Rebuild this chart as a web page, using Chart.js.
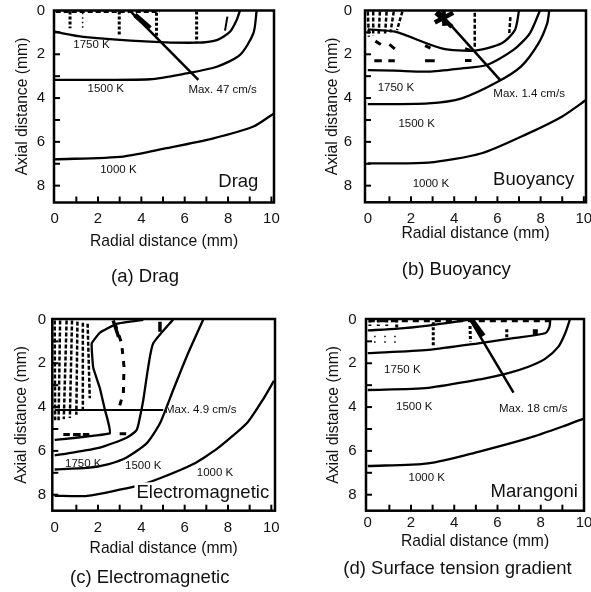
<!DOCTYPE html>
<html><head><meta charset="utf-8">
<script src="https://cdn.jsdelivr.net/npm/chart.js@4.4.1/dist/chart.umd.min.js"></script>
<style>
html,body{margin:0;padding:0;background:#fff;}
#wrap{position:relative;width:591px;height:592px;overflow:hidden;background:#fff;}
canvas{position:absolute;display:block;}
</style></head><body>
<div id="wrap">
<canvas id="pa" width="295" height="296" style="left:0;top:0"></canvas>
<canvas id="pb" width="296" height="296" style="left:295px;top:0"></canvas>
<canvas id="pc" width="295" height="296" style="left:0;top:296px"></canvas>
<canvas id="pd" width="296" height="296" style="left:295px;top:296px"></canvas>
</div>
<script>
// ---------- axes / tick labels ----------
const radialTicks = [0, 2, 4, 6, 8, 10];
const axialTicks = [0, 2, 4, 6, 8];
const radialMinor = [1, 2, 3, 4, 5, 6, 7, 8, 9, 10];
const axialMinor = [1, 2, 3, 4, 5, 6, 7, 8];
const xAxisTitle = 'Radial distance (mm)';
const yAxisTitle = 'Axial distance (mm)';
const captions = ['(a) Drag', '(b) Buoyancy', '(c) Electromagnetic', '(d) Surface tension gradient'];

// ---------- (a) Drag : [radial mm, axial mm] ----------
const dragIso1750 = [[0,0.97],[1.32,1.2],[4.4,1.42],[6.55,1.47],[7.48,1.35],[8.09,0.97],[8.4,0.43],[8.55,0]];
const dragIso1500 = [[0,3.17],[4.4,3.14],[6.09,2.87],[7.48,2.57],[8.55,2.03],[9.17,1.04],[9.32,0]];
const dragIso1000 = [[0,6.8],[3.17,6.67],[5.17,6.29],[7.32,5.84],[9.17,5.3],[10.12,4.7]];
const dragMaxVector = [[3.48,0.02],[6.63,3.17]];
const dragMaxHead = [[3.7,0.2,4.4,0.81]];
const dragVecColumns = [[0.71,0.05,0.71,0.81],[2.98,0.05,2.98,1.16],[4.7,0.1,4.7,1.27],[6.55,0.05,6.55,1.5]];
const dragVecFaint = [[1.29,0.1,1.29,0.89]];
const dragVecSolid = [[7.97,0.28,7.86,0.92]];
const dragVecSurface = [[0.05,0.05,4.86,0.05]];
const dragNotes = [['1750 K',1.7,1.58],['1500 K',2.36,3.6],['1000 K',2.94,7.28],['Max. 47 cm/s',6.17,3.63],['Drag',9.4,7.82]];

// ---------- (b) Buoyancy ----------
const buoyIsoInner = [[0,0.86],[1.26,0.97],[3.42,1.73],[4.96,1.83],[6.2,1.5],[6.81,0.89],[7.0,0]];
const buoyIso1750 = [[0,2.72],[1.26,2.75],[2.8,2.79],[4.35,2.64],[5.5,2.49],[6.74,1.8],[7.5,1.04],[7.97,0]];
const buoyIso1500 = [[0,4.28],[2.8,4.24],[4.35,4.01],[5.97,3.28],[7.1,2.55],[7.9,1.5],[8.3,0.6],[8.4,0]];
const buoyIso1000 = [[0,6.98],[2.8,6.95],[5.27,6.52],[7.43,5.61],[8.98,4.85],[10.1,4.09]];
const buoyMaxVector = [[3.26,0.03],[6.15,3.2]];
const buoyMaxHead = [[3.15,0.1,3.9,0.75],[3.1,0.55,3.95,0.1],[3.5,0.02,3.55,0.7]];
const buoyVecColumns = [[0.0,0.05,0.05,1.2],[0.25,0.05,0.25,1.15],[0.56,0.05,0.5,1.1],[0.87,0.05,0.8,1.05],[1.2,0.05,1.05,1.0],[1.6,0.05,1.35,0.9],[4.95,0.1,4.95,1.75],[6.6,0.3,6.55,1.03]];
const buoyVecArrows = [[0.35,1.4,0.6,1.55],[1.0,1.55,1.25,1.75],[2.65,1.6,2.9,1.72],[4.5,1.75,4.75,1.82],[0.3,2.3,0.65,2.3],[0.95,2.3,1.25,2.3],[2.65,2.3,3.1,2.3],[4.5,2.28,4.8,2.28]];
const buoyNotes = [['1750 K',1.3,3.51],['1500 K',2.26,5.18],['1000 K',2.92,7.92],['Max. 1.4 cm/s',5.81,3.81],['Buoyancy',9.56,7.74]];

// ---------- (c) Electromagnetic ----------
const emIsoInner = [[0,5.5],[2.55,5.2],[2.45,4.6],[2.32,4.13],[2.09,3.15],[1.78,2.2],[1.71,1.1],[2.09,0.6],[2.86,0.2],[4.09,0.02]];
const emIso1750 = [[0,6.2],[0.55,6.12],[2.09,5.85],[3.32,5.4],[3.78,5.05],[3.94,4.44],[4.09,3.68],[4.32,2.16],[4.55,1.09],[5.47,0]];
const emIso1500 = [[0,6.85],[1.5,6.78],[2.5,6.6],[3.32,6.3],[4.25,5.65],[4.86,4.74],[5.47,3.22],[6.09,1.7],[6.86,0]];
const emIso1000 = [[0,8.05],[1.5,8.05],[3.8,7.6],[4.86,7.25],[6.4,6.6],[7.5,5.9],[8.9,4.7],[9.65,3.6],[10.12,2.8]];
const emMaxVector = [[0,4.13],[5.01,4.13]];
const emVecColumns = [[0.0,0.05,0.02,4.6],[0.25,0.05,0.18,4.6],[0.55,0.05,0.42,4.55],[0.8,0.05,0.7,4.5],[1.05,0.1,1.0,4.35],[1.3,0.15,1.3,4.1],[1.52,0.2,1.62,3.6]];
const emVecCurve = [[2.78,0.17,3.09,1.09,3.2,2.16,3.17,3.37,2.94,4.13]];
const emVecSolid = [[2.7,0.05,2.95,0.8],[4.86,0.1,4.86,0.56]];
const emVecArrows = [[0.4,5.25,0.7,5.25],[0.85,5.25,1.2,5.25],[1.3,5.25,1.6,5.25],[3.0,5.22,3.3,5.22]];
const emNotes = [['1750 K',1.32,6.57],['1500 K',4.09,6.67],['1000 K',7.4,7.02],['Max. 4.9 cm/s',5.09,4.13],['Electromagnetic',9.9,7.9]];

// ---------- (d) Marangoni ----------
const maraIsoInner = [[0,0.5],[1.41,0.42],[2.8,0.28],[3.8,0.15],[4.75,0]];
const maraIso1750 = [[0,1.54],[2.8,1.39],[5.12,1.09],[6.66,0.86],[8.2,0.63],[8.4,0.35],[8.44,0]];
const maraIso1500 = [[0,3.22],[2.8,3.12],[5.27,2.72],[6.5,2.45],[7.43,2.16],[8.2,1.8],[8.82,1.24],[9.13,0.63],[9.35,0]];
const maraIso1000 = [[0,6.69],[2.8,6.57],[5.12,6.04],[7.43,5.42],[8.98,4.9],[10.02,4.51]];
const maraMaxVector = [[4.73,0],[6.74,3.34]];
const maraMaxHead = [[4.81,0.02,5.35,0.75]];
const maraVecSurface = [[0.05,0.05,8.4,0.05]];
const maraVecColumns = [[0.1,0,0.1,0.3],[0.49,0,0.49,0.3],[0.88,0,0.88,0.3],[1.34,0,1.34,0.4],[3.03,0.13,3.03,1.2],[4.73,0.3,4.75,1.0],[6.43,0.45,6.43,0.86]];
const maraVecFaint = [[0.33,0.75,0.33,1.25],[0.8,0.75,0.8,1.25],[1.26,0.75,1.26,1.25]];
const maraVecSolid = [[7.75,0.45,7.75,0.7]];
const maraNotes = [['1750 K',1.6,2.3],['1500 K',2.15,4.01],['1000 K',2.73,7.25],['Max. 18 cm/s',6.07,4.06],['Marangoni',9.72,7.86]];

// ---------- styling ----------
const FONT = "'Liberation Sans', Arial, Helvetica, sans-serif";
const INK = '#000';
const TEXT = '#111';
const TICK_FS = 15, TITLE_FS = 15.7, CAP_FS = 18.5, NOTE_FS = 11.5, NAME_FS = 18.5;

function pts(arr) { return arr.map(p => ({x: p[0], y: p[1]})); }
function segs(list) {
  const out = [];
  list.forEach(s => {
    for (let i = 0; i < s.length; i += 2) out.push({x: s[i], y: s[i + 1]});
    out.push({x: s[s.length - 2], y: null});
  });
  return out;
}
function line(arr, w, tension) {
  return {data: pts(arr), showLine: true, borderColor: INK, borderWidth: w, pointRadius: 0, tension: tension, fill: false};
}
function seg(list, w, dash) {
  return {data: segs(list), showLine: true, borderColor: INK, borderWidth: w, pointRadius: 0, tension: 0, spanGaps: false, borderDash: dash || [], borderCapStyle: 'butt', fill: false};
}

function decor(notes) {
  return {
    id: 'decor',
    afterDatasetsDraw(chart) {
      const {ctx, chartArea: a} = chart;
      const xs = chart.scales.x, ys = chart.scales.y;
      ctx.save();
      notes.forEach((n, i) => {
        const last = i === notes.length - 1;
        const isMax = n[0].indexOf('Max') === 0;
        const fs = last ? NAME_FS : NOTE_FS;
        ctx.font = fs + 'px ' + FONT;
        ctx.textBaseline = 'middle';
        ctx.textAlign = last ? 'right' : (isMax ? 'left' : 'center');
        const px = xs.getPixelForValue(n[1]), py = ys.getPixelForValue(n[2]);
        if (last) {
          const w = ctx.measureText(n[0]).width;
          ctx.fillStyle = '#fff';
          ctx.fillRect(px - w - 2, py - fs * 0.55, w + 4, fs * 1.1);
        }
        ctx.fillStyle = TEXT;
        ctx.fillText(n[0], px, py);
      });
      ctx.strokeStyle = INK;
      ctx.lineWidth = 2;
      radialMinor.forEach(v => {
        const p = xs.getPixelForValue(v);
        ctx.beginPath(); ctx.moveTo(p, a.bottom); ctx.lineTo(p, a.bottom - 6); ctx.stroke();
      });
      axialMinor.forEach(v => {
        const p = ys.getPixelForValue(v);
        ctx.beginPath(); ctx.moveTo(a.left, p); ctx.lineTo(a.left + 6, p); ctx.stroke();
      });
      ctx.lineWidth = 2.5;
      ctx.strokeRect(a.left, a.top, a.right - a.left, a.bottom - a.top);
      ctx.restore();
    }
  };
}

function panel(id, caption, L, range, datasets, notes) {
  const cv = document.getElementById(id);
  const W = cv.width, H = cv.height;
  const capLH = CAP_FS * 1.2, titLH = TITLE_FS * 1.2, tickLH = TICK_FS * 1.2;
  const padL = 2 * L.capX - L.right;
  const padR = W - L.right;
  const padB = H - L.capY - capLH / 2;
  const capTop = L.capY - capLH / 2;
  const xH = capTop - L.bottom;
  const yW = L.left - padL;
  new Chart(cv, {
    type: 'scatter',
    data: {datasets: datasets},
    options: {
      responsive: false, animation: false, events: [],
      layout: {padding: {left: padL, right: padR, top: L.top, bottom: padB}},
      plugins: {
        legend: {display: false}, tooltip: {enabled: false},
        title: {display: true, text: caption, position: 'bottom', color: TEXT,
                font: {family: FONT, size: CAP_FS, weight: 'normal'}, padding: {top: 0, bottom: 0}}
      },
      scales: {
        x: {
          type: 'linear', position: 'bottom', min: range[0], max: range[1],
          grid: {display: false, drawTicks: false}, border: {display: false},
          ticks: {font: {family: FONT, size: TICK_FS}, color: TEXT, padding: L.xTickY - L.bottom - tickLH / 2,
                  autoSkip: false, maxRotation: 0, callback: v => String(v)},
          afterBuildTicks: s => { s.ticks = radialTicks.map(v => ({value: v})); },
          afterFit: s => { s.height = xH; s.paddingLeft = 0; s.paddingRight = 0; },
          title: {display: true, text: xAxisTitle, color: TEXT, font: {family: FONT, size: TITLE_FS},
                  padding: {top: 0, bottom: capTop - L.xTitleY - titLH / 2}}
        },
        y: {
          type: 'linear', position: 'left', reverse: true, min: range[2], max: range[3],
          grid: {display: false, drawTicks: false}, border: {display: false},
          ticks: {font: {family: FONT, size: TICK_FS}, color: TEXT, padding: L.left - L.yLabRight,
                  autoSkip: false, callback: v => String(v)},
          afterBuildTicks: s => { s.ticks = axialTicks.map(v => ({value: v})); },
          afterFit: s => { s.width = yW; s.paddingTop = 0; s.paddingBottom = 0; },
          title: {display: true, text: yAxisTitle, color: TEXT, font: {family: FONT, size: TITLE_FS},
                  padding: {top: L.yTitleX - padL - titLH / 2, bottom: 0}}
        }
      }
    },
    plugins: [decor(notes)]
  });
}

panel('pa', captions[0],
  {left: 54, right: 274, top: 10.5, bottom: 202.5, yLabRight: 45, yTitleX: 22.5, xTickY: 219, xTitleY: 241.7, capX: 145, capY: 276.7},
  [-0.03, 10.12, 0, 8.77],
  [
    seg(dragVecColumns, 3, [3, 2]),
    seg(dragVecFaint, 1.5, [1.5, 3]),
    seg(dragVecSolid, 2),
    seg(dragVecSurface, 3, [5, 3]),
    line(dragIso1750, 2.3, 0.25),
    line(dragIso1500, 2.3, 0.25),
    line(dragIso1000, 2.3, 0.25),
    line(dragMaxVector, 2.5, 0),
    seg(dragMaxHead, 5)
  ], dragNotes);

panel('pb', captions[1],
  {left: 70, right: 291, top: 10.5, bottom: 202.3, yLabRight: 57, yTitleX: 37.5, xTickY: 219, xTitleY: 233.3, capX: 161.3, capY: 270},
  [-0.13, 10.1, 0, 8.76],
  [
    seg(buoyVecColumns, 2.5, [4, 2]),
    seg(buoyVecArrows, 3),
    line(buoyIsoInner, 2.3, 0.25),
    line(buoyIso1750, 2.3, 0.25),
    line(buoyIso1500, 2.3, 0.25),
    line(buoyIso1000, 2.3, 0.25),
    line(buoyMaxVector, 2.5, 0),
    seg(buoyMaxHead, 4.5)
  ], buoyNotes);

panel('pc', captions[2],
  {left: 52.3, right: 275, top: 23, bottom: 214.7, yLabRight: 46, yTitleX: 21.7, xTickY: 232.3, xTitleY: 252.3, capX: 149.7, capY: 282.3},
  [-0.11, 10.17, -0.02, 8.73],
  [
    seg(emVecColumns, 2.5, [4, 2]),
    seg(emVecCurve, 3, [6, 7]),
    seg(emVecSolid, 3.5),
    seg(emVecArrows, 3),
    line(emIsoInner, 2.3, 0.1),
    line(emIso1750, 2.3, 0.2),
    line(emIso1500, 2.3, 0.2),
    line(emIso1000, 2.3, 0.2),
    line(emMaxVector, 2, 0)
  ], emNotes);

panel('pd', captions[3],
  {left: 71, right: 289, top: 23, bottom: 214.7, yLabRight: 61.7, yTitleX: 38.3, xTickY: 227.3, xTitleY: 245.7, capX: 162.5, capY: 273.3},
  [-0.08, 10.0, -0.02, 8.73],
  [
    seg(maraVecSurface, 3.5, [6, 5]),
    seg(maraVecColumns, 3, [3, 2]),
    seg(maraVecFaint, 1.5, [1.5, 4]),
    seg(maraVecSolid, 5),
    line(maraIsoInner, 2.3, 0.2),
    line(maraIso1750, 2.3, 0.25),
    line(maraIso1500, 2.3, 0.25),
    line(maraIso1000, 2.3, 0.25),
    line(maraMaxVector, 2.5, 0),
    seg(maraMaxHead, 5)
  ], maraNotes);
</script>
</body></html>
